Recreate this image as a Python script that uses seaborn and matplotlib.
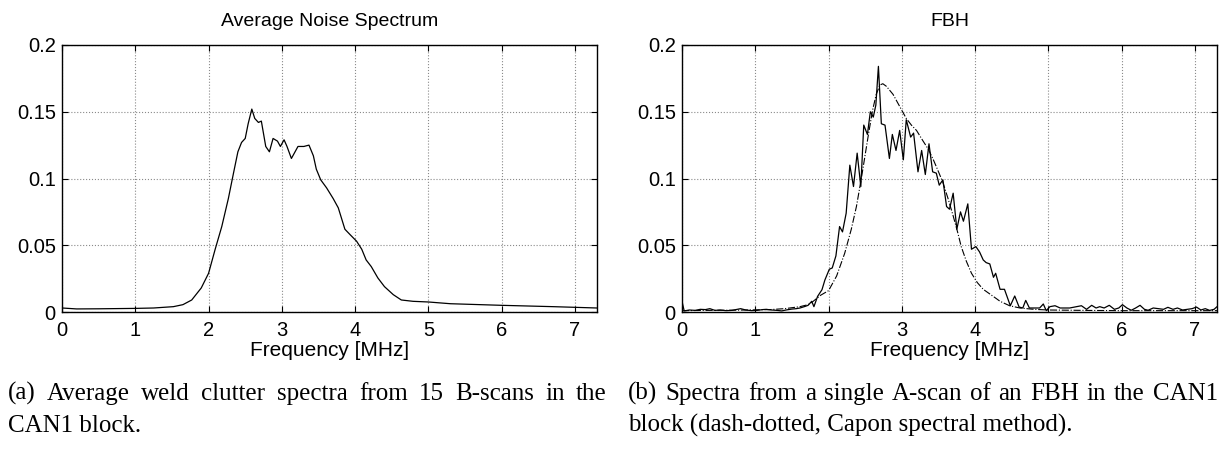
import numpy as np
import pandas as pd
import matplotlib
matplotlib.use("Agg")
import matplotlib.pyplot as plt
import seaborn as sns

# ---------------- data ----------------
noise_freq = [0, 0.2, 0.5, 1.0, 1.25, 1.52, 1.65, 1.77, 1.9, 2.0, 2.09, 2.18, 2.27, 2.34,
              2.4, 2.45, 2.5, 2.54, 2.59, 2.63, 2.68, 2.72, 2.78, 2.83, 2.88, 2.94, 2.98,
              3.03, 3.07, 3.13, 3.22, 3.3, 3.37, 3.43, 3.47, 3.53, 3.61, 3.7, 3.77, 3.86,
              3.93, 4.02, 4.09, 4.15, 4.22, 4.31, 4.4, 4.52, 4.63, 4.79, 5.0, 5.3, 6.0,
              6.7, 7.3]
noise_amp = [0.003, 0.0023, 0.0024, 0.0027, 0.003, 0.004, 0.0055, 0.009, 0.018, 0.029,
             0.047, 0.064, 0.085, 0.104, 0.12, 0.127, 0.13, 0.141, 0.152, 0.145, 0.142,
             0.143, 0.124, 0.12, 0.13, 0.128, 0.124, 0.129, 0.124, 0.115, 0.124, 0.124,
             0.125, 0.117, 0.107, 0.099, 0.093, 0.085, 0.078, 0.062, 0.058, 0.053, 0.047,
             0.039, 0.034, 0.0255, 0.019, 0.013, 0.009, 0.008, 0.0075, 0.0062, 0.005,
             0.004, 0.003]

fbh_freq = [0, 0.03, 0.1, 0.18, 0.25, 0.32, 0.38, 0.45, 0.52, 0.6, 0.68, 0.75, 0.8, 0.87,
            0.95, 1.02, 1.1, 1.15, 1.22, 1.3, 1.36, 1.42, 1.5, 1.56, 1.61, 1.68, 1.72,
            1.77, 1.80, 1.85, 1.91, 1.95, 2.01, 2.05, 2.10, 2.15, 2.19, 2.24, 2.29, 2.34,
            2.39, 2.44, 2.48, 2.53, 2.57, 2.61, 2.645, 2.68, 2.72, 2.77, 2.83, 2.87, 2.92,
            2.97, 3.02, 3.06, 3.12, 3.16, 3.22, 3.27, 3.32, 3.37, 3.42, 3.47, 3.51, 3.56,
            3.61, 3.65, 3.70, 3.75, 3.80, 3.84, 3.90, 3.95, 4.01, 4.06, 4.11, 4.15, 4.20,
            4.25, 4.28, 4.34, 4.40, 4.48, 4.54, 4.60, 4.65, 4.69, 4.74, 4.81, 4.88, 4.93,
            4.97, 5.02, 5.09, 5.16, 5.23, 5.29, 5.38, 5.45, 5.52, 5.59, 5.65, 5.70, 5.76,
            5.83, 5.90, 5.96, 6.01, 6.07, 6.13, 6.19, 6.25, 6.31, 6.36, 6.43, 6.5, 6.57,
            6.63, 6.7, 6.76, 6.83, 6.9, 6.96, 7.02, 7.08, 7.14, 7.2, 7.26, 7.3]
fbh_amp = [0.008, 0.0008, 0.0015, 0.0012, 0.002, 0.0018, 0.0025, 0.0012, 0.0015, 0.001,
           0.0012, 0.002, 0.0025, 0.0015, 0.001, 0.0012, 0.0018, 0.002, 0.0015, 0.0012,
           0.0008, 0.0015, 0.0022, 0.0025, 0.003, 0.0042, 0.005, 0.008, 0.004, 0.0117,
           0.0167, 0.024, 0.032, 0.033, 0.042, 0.064, 0.060, 0.074, 0.110, 0.094, 0.119,
           0.094, 0.140, 0.133, 0.150, 0.146, 0.155, 0.184, 0.141, 0.140, 0.115, 0.133,
           0.121, 0.136, 0.114, 0.144, 0.131, 0.134, 0.105, 0.121, 0.103, 0.126, 0.105,
           0.104, 0.095, 0.099, 0.079, 0.077, 0.089, 0.062, 0.075, 0.068, 0.081, 0.047,
           0.049, 0.045, 0.039, 0.037, 0.036, 0.026, 0.029, 0.017, 0.017, 0.0047, 0.012,
           0.0037, 0.003, 0.0087, 0.003, 0.003, 0.003, 0.006, 0.001, 0.004, 0.0047, 0.003,
           0.003, 0.003, 0.004, 0.0047, 0.002, 0.005, 0.003, 0.004, 0.003, 0.005, 0.002,
           0.003, 0.0055, 0.003, 0.0013, 0.003, 0.005, 0.002, 0.0013, 0.003, 0.0025, 0.002,
           0.0035, 0.002, 0.003, 0.0015, 0.002, 0.0025, 0.0037, 0.0015, 0.0025, 0.0012,
           0.002, 0.004]

capon_freq = [0, 0.3, 0.6, 0.9, 1.2, 1.4, 1.61, 1.72, 1.79, 1.89, 2.0, 2.11, 2.22, 2.31,
              2.38, 2.45, 2.50, 2.55, 2.60, 2.65, 2.70, 2.74, 2.79, 2.88, 2.97, 3.06, 3.13,
              3.20, 3.29, 3.36, 3.43, 3.50, 3.56, 3.63, 3.70, 3.76, 3.81, 3.88, 3.95, 4.03,
              4.11, 4.20, 4.29, 4.34, 4.47, 4.61, 4.8, 5.0, 5.5, 6.0, 6.5, 7.0, 7.3]
capon_amp = [0.001, 0.0012, 0.0013, 0.0015, 0.0018, 0.0025, 0.004, 0.0055, 0.008, 0.0125,
             0.016, 0.027, 0.044, 0.062, 0.079, 0.101, 0.118, 0.135, 0.151, 0.163, 0.170,
             0.171, 0.169, 0.163, 0.154, 0.145, 0.140, 0.136, 0.128, 0.122, 0.114, 0.105,
             0.097, 0.085, 0.072, 0.060, 0.049, 0.038, 0.029, 0.022, 0.017, 0.0135, 0.010,
             0.008, 0.0047, 0.003, 0.002, 0.0015, 0.0012, 0.001, 0.001, 0.001, 0.001]

x_ticks = [0, 1, 2, 3, 4, 5, 6, 7]
y_ticks = [0, 0.05, 0.1, 0.15, 0.2]
y_tick_labels = ["0", "0.05", "0.1", "0.15", "0.2"]
titles = ["Average Noise Spectrum", "FBH"]
x_label = "Frequency [MHz]"
caption_a = ["(a) Average weld clutter spectra from 15 B-scans in the", "CAN1 block."]
caption_b = ["(b) Spectra from a single A-scan of an FBH in the CAN1",
             "block (dash-dotted, Capon spectral method)."]

# ---------------- style ----------------
sns.set_theme(style="ticks")
plt.rcParams['font.family'] = ['Liberation Sans', 'DejaVu Sans']
plt.rcParams.update({
    "xtick.direction": "in", "ytick.direction": "in",
    "xtick.major.size": 4, "ytick.major.size": 4,
    "xtick.major.width": 0.8, "ytick.major.width": 0.8,
    "xtick.top": True, "ytick.right": True,
    "axes.edgecolor": "black", "axes.linewidth": 1.0,
    "xtick.color": "black", "ytick.color": "black",
    "text.color": "black", "axes.labelcolor": "black",
})

W, H = 1223, 450
fig = plt.figure(figsize=(W / 100, H / 100), dpi=100)
ax_l = fig.add_axes([62 / W, (H - 312) / H, 535 / W, 267 / H])
ax_r = fig.add_axes([682 / W, (H - 312) / H, 535 / W, 267 / H])

noise_df = pd.DataFrame({"freq": noise_freq, "amp": noise_amp})
fbh_df = pd.DataFrame({"freq": fbh_freq, "amp": fbh_amp})
capon_df = pd.DataFrame({"freq": capon_freq, "amp": capon_amp})

sns.lineplot(data=noise_df, x="freq", y="amp", ax=ax_l, color="black", lw=0.9,
             estimator=None, sort=False)
sns.lineplot(data=capon_df, x="freq", y="amp", ax=ax_r, color="black", lw=0.8,
             linestyle="-.", estimator=None, sort=False)
sns.lineplot(data=fbh_df, x="freq", y="amp", ax=ax_r, color="black", lw=0.9,
             estimator=None, sort=False)

for ax, title in zip([ax_l, ax_r], titles):
    ax.set_xlim(0, 7.3)
    ax.set_ylim(0, 0.2)
    ax.set_xticks(x_ticks)
    ax.set_xticklabels([str(t) for t in x_ticks])
    ax.set_yticks(y_ticks)
    ax.set_yticklabels(y_tick_labels)
    ax.tick_params(axis="both", labelsize=14.5)
    ax.tick_params(axis="x", pad=6.5)
    ax.tick_params(axis="y", pad=4.5)
    ax.grid(True, linestyle=":", color="#8a8a8a", linewidth=0.8)
    for s in ax.spines.values():
        s.set_visible(True)
        s.set_color("black")
    ax.set_title(title, fontsize=14, pad=14)
    ax.set_xlabel(x_label, fontsize=15, labelpad=1)
    ax.set_ylabel("")

# ---------------- captions (justified first line) ----------------
renderer = fig.canvas.get_renderer()
cap_font = dict(family=['Liberation Serif', 'DejaVu Serif'], fontsize=18)


def justified_line(text, x0, x1, y):
    words = text.split(" ")
    objs = [fig.text(0, y / H, w, va="baseline", ha="left", **cap_font) for w in words]
    widths = [o.get_window_extent(renderer).width for o in objs]
    gap = (x1 - x0 - sum(widths)) / (len(words) - 1)
    x = x0
    for o, w in zip(objs, widths):
        o.set_x(x / W)
        x += w + gap


def plain_line(text, x0, y):
    fig.text(x0 / W, y / H, text, va="baseline", ha="left", **cap_font)


justified_line(caption_a[0], 8, 607, H - 400)
plain_line(caption_a[1], 8, H - 432)
justified_line(caption_b[0], 628, 1218, H - 400)
plain_line(caption_b[1], 628, H - 432)

fig.savefig("out.png", dpi=100)
